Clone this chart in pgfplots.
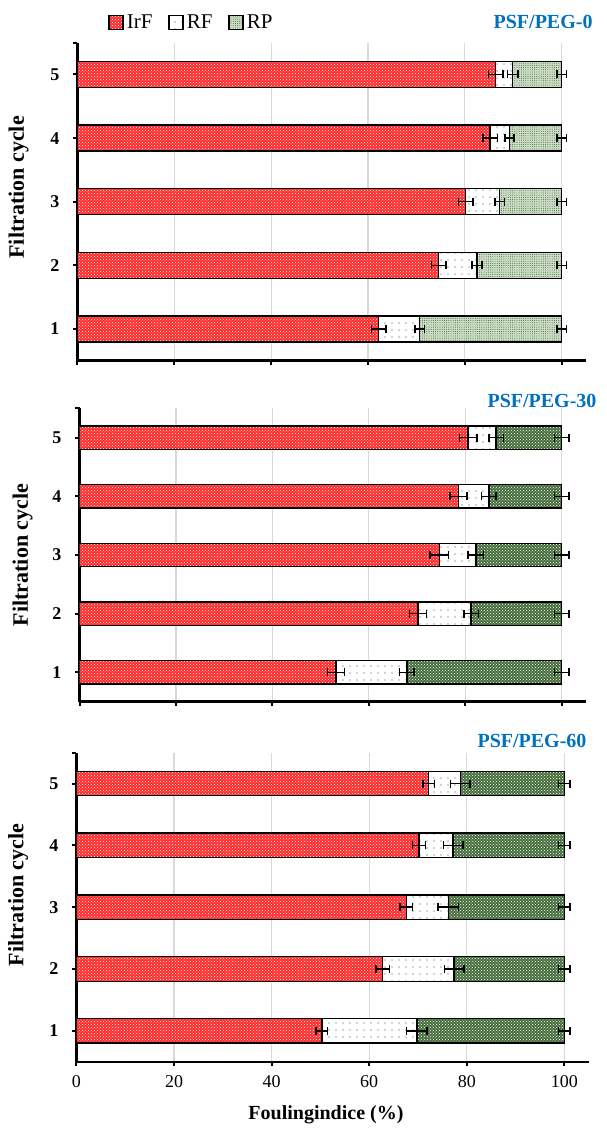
\documentclass[border=0pt]{standalone}
\usepackage{fontspec}
\setmainfont{Liberation Serif}
\usepackage{pgfplots}
\pgfplotsset{compat=1.18}
\usetikzlibrary{patterns,patterns.meta}
\definecolor{irfred}{RGB}{255,40,40}
\definecolor{dgreen}{RGB}{40,90,30}
\definecolor{rpgreen}{RGB}{70,110,60}
\definecolor{rplight}{RGB}{205,220,198}
\definecolor{pegblue}{RGB}{0,112,192}
\tikzset{
 irf/.style={fill=irfred, postaction={pattern=crosshatch dots, pattern color=white}, postaction={draw=black, line width=1.3pt}},
 rf/.style={fill=white, postaction={pattern={Dots[distance=7pt, radius=0.7pt]}, pattern color=dgreen}, postaction={draw=black, line width=1.3pt}},
 rplite/.style={fill=rplight, postaction={pattern={Dots[distance=2.2pt, radius=0.45pt]}, pattern color=dgreen}, postaction={draw=black, line width=1.3pt}},
}
\pgfplotsset{
 panel/.style={
  scale only axis, anchor=south west,
  xmin=0, xmax=105, ymin=0.5, ymax=5.5,
  axis x line=bottom, axis y line=left,
  axis line style={line width=2.4pt, -},
  tick align=outside,
  xtick={0,20,40,60,80,100}, ytick={1,2,3,4,5},
  extra y ticks={5.5}, extra y tick labels={},
  xmajorgrids, ymajorgrids=false,
  major grid style={draw=black!15, line width=1.2pt},
  major tick length=4.5pt,
  tick style={black, line width=2pt},
  tick label style={font=\fontsize{18}{20}\selectfont},
  yticklabel style={font=\bfseries\fontsize{18}{20}\selectfont, xshift=-10pt},
  /pgf/number format/assume math mode=true,
  ylabel={Filtration cycle},
  title style={font=\bfseries\fontsize{20}{22}\selectfont, text=pegblue, anchor=east},
 },
 ylab/.style 2 args={every axis y label/.style={at={(rel axis cs:0,#2)}, xshift=#1, rotate=90, anchor=center, font=\bfseries\fontsize{22}{24}\selectfont}},
 fillbar/.style={xbar, bar width=#1, bar shift=0pt, draw=black, line width=1.3pt, forget plot},
 ebar/.style={draw=none, mark=none, forget plot,
  error bars/.cd, x dir=both, x explicit,
  error bar style={black, line width=1.5pt},
  error mark options={black, line width=1.5pt, mark size=4pt, rotate=90}},
}
\begin{document}
\begin{tikzpicture}
\path[use as bounding box] (0,0) rectangle (606pt,1128pt);
% ---------------- Panel 1: PSF/PEG-0
\begin{axis}[panel, ylab={-59pt}{0.545}, at={(77.5pt,767.3pt)}, width=508.4pt, height=318pt,
 xticklabels={\empty,\empty,\empty,\empty,\empty,\empty},
 title={PSF/PEG-0}, title style={at={(1.02,1.045)}},
 legend style={at={(0.054,1.064)}, anchor=west, draw=none, fill=none,
  legend columns=3, font=\fontsize{21}{23}\selectfont,
  /tikz/every odd column/.append style={column sep=2pt},
  /tikz/every even column/.append style={column sep=14pt},
  nodes={inner sep=1.5pt}},
]
\addlegendimage{legend image code/.code={\draw[irf] (0pt,-7pt) rectangle (14pt,7pt);}}
\addlegendentry{IrF}
\addlegendimage{legend image code/.code={\draw[rf] (0pt,-7pt) rectangle (14pt,7pt);}}
\addlegendentry{RF}
\addlegendimage{legend image code/.code={\draw[rplite] (0pt,-7pt) rectangle (14pt,7pt);}}
\addlegendentry{RP}
% RP
\addplot[fillbar=26pt, fill=rplight] coordinates {(100,1) (100,2) (100,3) (100,4) (100,5)};
\addplot[fillbar=26pt, pattern={Dots[distance=2.2pt, radius=0.45pt]}, pattern color=dgreen] coordinates {(100,1) (100,2) (100,3) (100,4) (100,5)};
% RF (cumulative end)
\addplot[fillbar=26pt, fill=white] coordinates {(70.7,1) (82.5,2) (87.2,3) (89.2,4) (89.9,5)};
\addplot[fillbar=26pt, pattern={Dots[distance=7pt, radius=0.7pt]}, pattern color=dgreen] coordinates {(70.7,1) (82.5,2) (87.2,3) (89.2,4) (89.9,5)};
% IrF
\addplot[fillbar=26pt, fill=irfred] coordinates {(62.2,1) (74.6,2) (80.2,3) (85.2,4) (86.4,5)};
\addplot[fillbar=26pt, pattern=crosshatch dots, pattern color=white] coordinates {(62.2,1) (74.6,2) (80.2,3) (85.2,4) (86.4,5)};
\addplot[ebar] coordinates {(100,1) +- (1.0,0) (100,2) +- (1.0,0) (100,3) +- (1.0,0) (100,4) +- (1.0,0) (100,5) +- (1.0,0)};
\addplot[ebar] coordinates {(70.7,1) +- (1.0,0) (82.5,2) +- (1.0,0) (87.2,3) +- (1.0,0) (89.2,4) +- (0.9,0) (89.9,5) +- (1.1,0)};
\addplot[ebar] coordinates {(62.2,1) +- (1.5,0) (74.6,2) +- (1.5,0) (80.2,3) +- (1.5,0) (85.2,4) +- (1.5,0) (86.4,5) +- (1.5,0)};
\end{axis}
% ---------------- Panel 2: PSF/PEG-30
\begin{axis}[panel, ylab={-57pt}{0.5}, at={(79.5pt,426.3pt)}, width=506.3pt, height=293.4pt,
 xticklabels={\empty,\empty,\empty,\empty,\empty,\empty},
 title={PSF/PEG-30}, title style={at={(1.028,1.005)}},
]
\addplot[fillbar=23.5pt, fill=rpgreen] coordinates {(100,1) (100,2) (100,3) (100,4) (100,5)};
\addplot[fillbar=23.5pt, pattern=crosshatch dots, pattern color=white] coordinates {(100,1) (100,2) (100,3) (100,4) (100,5)};
\addplot[fillbar=23.5pt, fill=white] coordinates {(67.9,1) (81.2,2) (82.2,3) (84.9,4) (86.4,5)};
\addplot[fillbar=23.5pt, pattern={Dots[distance=7pt, radius=0.7pt]}, pattern color=dgreen] coordinates {(67.9,1) (81.2,2) (82.2,3) (84.9,4) (86.4,5)};
\addplot[fillbar=23.5pt, fill=irfred] coordinates {(53.2,1) (70.2,2) (74.6,3) (78.6,4) (80.6,5)};
\addplot[fillbar=23.5pt, pattern=crosshatch dots, pattern color=white] coordinates {(53.2,1) (70.2,2) (74.6,3) (78.6,4) (80.6,5)};
\addplot[ebar] coordinates {(100,1) +- (1.5,0) (100,2) +- (1.5,0) (100,3) +- (1.5,0) (100,4) +- (1.5,0) (100,5) +- (1.5,0)};
\addplot[ebar] coordinates {(67.9,1) +- (1.5,0) (81.2,2) +- (1.5,0) (82.2,3) +- (1.6,0) (84.9,4) +- (1.5,0) (86.4,5) +- (1.5,0)};
\addplot[ebar] coordinates {(53.2,1) +- (1.8,0) (70.2,2) +- (1.8,0) (74.6,3) +- (1.9,0) (78.6,4) +- (1.8,0) (80.6,5) +- (1.8,0)};
\end{axis}
% ---------------- Panel 3: PSF/PEG-60
\begin{axis}[panel, ylab={-58.5pt}{0.54}, at={(76.5pt,66.3pt)}, width=512.2pt, height=309pt,
 xticklabel style={yshift=-6pt},
 xlabel={Foulingindice (\%)},
 every axis x label/.style={at={(rel axis cs:0.487,0)}, anchor=center, yshift=-53pt, font=\bfseries\fontsize{20}{22}\selectfont},
 title={PSF/PEG-60}, title style={at={(1.0025,1.02)}},
]
\addplot[fillbar=24.5pt, fill=rpgreen] coordinates {(100,1) (100,2) (100,3) (100,4) (100,5)};
\addplot[fillbar=24.5pt, pattern=crosshatch dots, pattern color=white] coordinates {(100,1) (100,2) (100,3) (100,4) (100,5)};
\addplot[fillbar=24.5pt, fill=white] coordinates {(69.8,1) (77.4,2) (76.2,3) (77.2,4) (78.7,5)};
\addplot[fillbar=24.5pt, pattern={Dots[distance=7pt, radius=0.7pt]}, pattern color=dgreen] coordinates {(69.8,1) (77.4,2) (76.2,3) (77.2,4) (78.7,5)};
\addplot[fillbar=24.5pt, fill=irfred] coordinates {(50.3,1) (62.8,2) (67.6,3) (70.2,4) (72.2,5)};
\addplot[fillbar=24.5pt, pattern=crosshatch dots, pattern color=white] coordinates {(50.3,1) (62.8,2) (67.6,3) (70.2,4) (72.2,5)};
\addplot[ebar] coordinates {(100,1) +- (1.2,0) (100,2) +- (1.2,0) (100,3) +- (1.2,0) (100,4) +- (1.2,0) (100,5) +- (1.2,0)};
\addplot[ebar] coordinates {(69.8,1) +- (2.1,0) (77.4,2) +- (2.0,0) (76.2,3) +- (2.1,0) (77.2,4) +- (2.0,0) (78.7,5) +- (2.0,0)};
\addplot[ebar] coordinates {(50.3,1) +- (1.2,0) (62.8,2) +- (1.4,0) (67.6,3) +- (1.3,0) (70.2,4) +- (1.3,0) (72.2,5) +- (1.2,0)};
\end{axis}
\end{tikzpicture}
\end{document}
